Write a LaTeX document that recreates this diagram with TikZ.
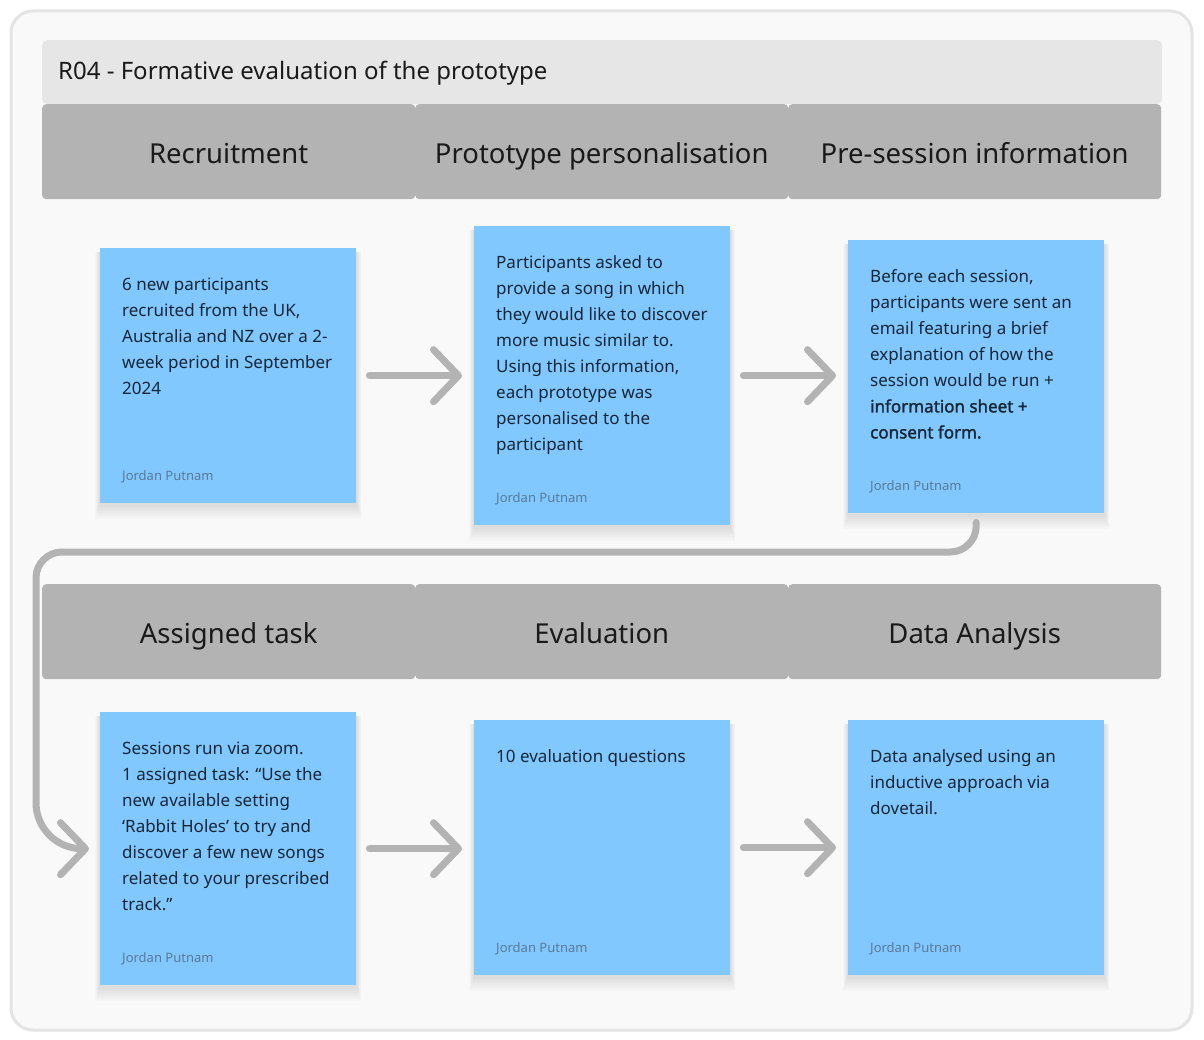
\documentclass[tikz,border=0pt]{standalone}
\usepackage{fontspec}
\setmainfont{Noto Sans}
\newfontfamily\notebold{Noto Sans}[FakeBold=1.6]
\usetikzlibrary{arrows.meta}
\definecolor{framefill}{HTML}{F9F9F9}
\definecolor{framedraw}{HTML}{E4E4E4}
\definecolor{titlefill}{HTML}{E6E6E6}
\definecolor{headfill}{HTML}{B3B3B3}
\definecolor{notefill}{HTML}{80C8FF}
\definecolor{notetext}{HTML}{172635}
\definecolor{authortext}{HTML}{5A7A96}
\definecolor{conncol}{HTML}{B3B3B3}
\definecolor{headtext}{HTML}{1A1A1A}
\pgfdeclarelayer{bg}
\pgfdeclarelayer{shadow}
\pgfsetlayers{bg,shadow,main}
\begin{document}
\begin{tikzpicture}[x=1pt,y=-1pt,
  titlebox/.style={rectangle, rounded corners=5pt, fill=titlefill, anchor=north west, inner sep=0,
    minimum width=1120pt, minimum height=64pt},
  titletxt/.style={anchor=base west, inner sep=0, font=\fontsize{24}{28}\selectfont, text=headtext},
  headbox/.style={rectangle, rounded corners=4pt, fill=headfill, anchor=north west, inner sep=0,
    minimum width=373pt, minimum height=95pt, text height=28pt, text depth=5pt,
    font=\fontsize{27.5}{30}\selectfont, text=headtext},
  note/.style={rectangle, fill=notefill, anchor=north west, inner sep=0, minimum width=256pt},
  notetxt/.style={anchor=north west, inner sep=0, align=left, font=\fontsize{17}{26}\selectfont, text=notetext},
  author/.style={anchor=base west, inner sep=0, font=\fontsize{13}{15}\selectfont, text=authortext},
  conn/.style={draw=conncol, line width=7pt, line cap=round, line join=round,
    -{Straight Barb[length=25pt, width=52pt, round]}},
]
\useasboundingbox (0,0) rectangle (1204,1040);
\begin{pgfonlayer}{bg}
  \fill[white] (0,0) rectangle (1204,1040);
  \draw[framedraw, fill=framefill, line width=3pt, rounded corners=22pt] (11,11) rectangle (1192,1030);
\end{pgfonlayer}

% title
\node[titlebox] (title) at (42,40) {};
\node[titletxt] (titletext) at (58,80) {R04 - Formative evaluation of the prototype};

% headers
\node[headbox] (h1) at (42,104) {Recruitment};
\node[headbox] (h2) at (415,104) {Prototype personalisation};
\node[headbox] (h3) at (788,104) {Pre-session information};
\node[headbox] (h4) at (42,584) {Assigned task};
\node[headbox] (h5) at (415,584) {Evaluation};
\node[headbox] (h6) at (788,584) {Data Analysis};

% notes
\node[note, minimum height=255pt] (n1) at (100,248) {};
\node[note, minimum height=299pt] (n2) at (474,226) {};
\node[note, minimum height=273pt] (n3) at (848,240) {};
\node[note, minimum height=273pt] (n4) at (100,712) {};
\node[note, minimum height=255pt] (n5) at (474,720) {};
\node[note, minimum height=255pt] (n6) at (848,720) {};

\begin{pgfonlayer}{shadow}
\foreach \k in {1,...,6}{
  \foreach \i in {1,...,7}{
    \fill[black, opacity=0.016] ([shift={(-\i*0.7,4)}]n\k.north west) rectangle ([shift={(\i*0.7,1.5+\i*2)}]n\k.south east);
  }
}
\end{pgfonlayer}

\node[notetxt] (t1) at ([shift={(22,24)}]n1.north west) {\strut 6 new participants\\recruited from the UK,\\Australia and NZ over a 2-\\week period in September\\2024};
\node[notetxt] (t2) at ([shift={(22,24)}]n2.north west) {\strut Participants asked to\\provide a song in which\\they would like to discover\\more music similar to.\\Using this information,\\each prototype was\\personalised to the\\participant};
\node[notetxt] (t3) at ([shift={(22,24)}]n3.north west) {\strut Before each session,\\participants were sent an\\email featuring a brief\\explanation of how the\\session would be run +\\{\notebold information sheet +}\\{\notebold consent form.}};
\node[notetxt] (t4) at ([shift={(22,24)}]n4.north west) {\strut Sessions run via zoom.\\1 assigned task: “Use the\\new available setting\\‘Rabbit Holes’ to try and\\discover a few new songs\\related to your prescribed\\track.”};
\node[notetxt] (t5) at ([shift={(22,24)}]n5.north west) {\strut 10 evaluation questions};
\node[notetxt] (t6) at ([shift={(22,24)}]n6.north west) {\strut Data analysed using an\\inductive approach via\\dovetail.};

\foreach \k in {1,...,6}{
  \node[author] (a\k) at ([shift={(22,-23)}]n\k.south west) {Jordan Putnam};
}

% connectors
\draw[conn] ([shift={(13,0)}]n1.east) -- ([shift={(-12,0)}]n1.east -| n2.west);
\draw[conn] ([shift={(13,0)}]n2.east) -- ([shift={(-12,0)}]n2.east -| n3.west);
\draw[conn] ([shift={(13,0)}]n4.east) -- ([shift={(-12,0)}]n4.east -| n5.west);
\draw[conn] ([shift={(13,0)}]n5.east) -- ([shift={(-12,0)}]n5.east -| n6.west);
\coordinate (bendL) at (36,552);
\draw[conn] ([shift={(0,9)}]n3.south) [rounded corners=26pt] |- (bendL) [rounded corners=46pt] |- ([shift={(-11,0)}]n4.west);
\end{tikzpicture}
\end{document}
